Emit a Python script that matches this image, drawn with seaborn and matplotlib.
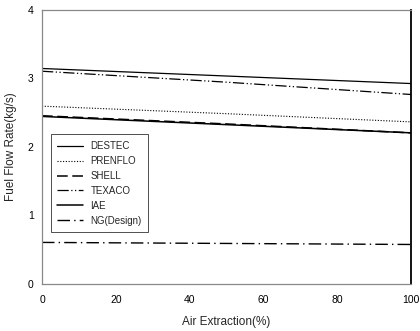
import matplotlib
matplotlib.use("Agg")
import matplotlib.pyplot as plt
import seaborn as sns
import pandas as pd

# Fuel flow rate versus air extraction for each gasifier
air_extraction = [0, 50, 100]
destec = [3.14, 3.03, 2.92]
prenflo = [2.59, 2.48, 2.36]
shell = [2.45, 2.33, 2.20]
texaco = [3.10, 2.94, 2.76]
iae = [2.44, 2.32, 2.20]
ng_design = [0.60, 0.585, 0.57]

series = {
    "DESTEC": destec,
    "PRENFLO": prenflo,
    "SHELL": shell,
    "TEXACO": texaco,
    "IAE": iae,
    "NG(Design)": ng_design,
}
styles = {
    "DESTEC": dict(ls="-", lw=0.9),
    "PRENFLO": dict(ls=(0, (1, 1.5)), lw=0.8),
    "SHELL": dict(ls=(0, (7, 3)), lw=1.1),
    "TEXACO": dict(ls=(0, (9, 2, 1, 2, 1, 2)), lw=0.9),
    "IAE": dict(ls="-", lw=1.1),
    "NG(Design)": dict(ls=(0, (9, 3, 1, 3)), lw=1.0),
}

sns.set_theme(style="white")
plt.rcParams["font.family"] = ["Liberation Sans", "DejaVu Sans"]

fig = plt.figure(figsize=(4.2, 3.31), dpi=100)
ax = fig.add_axes([0.1, 0.1435, 0.879, 0.8275])

for name, vals in series.items():
    df = pd.DataFrame({"x": air_extraction, "y": vals})
    sns.lineplot(data=df, x="x", y="y", ax=ax, color="black",
                 label=name, **styles[name])

ax.set_xlim(0, 100)
ax.set_ylim(0, 4)
ax.set_xticks([0, 20, 40, 60, 80, 100])
ax.set_yticks([0, 1, 2, 3, 4])
ax.set_xlabel("Air Extraction(%)", fontsize=8.5, labelpad=8)
ax.set_ylabel("Fuel Flow Rate(kg/s)", fontsize=8.5, labelpad=8)
ax.tick_params(axis="both", labelsize=7.5, colors="black")
ax.tick_params(axis="x", direction="in", length=3, width=0.6, pad=8)
ax.tick_params(axis="y", direction="out", length=3, width=0.6, pad=3)

for side in ["left", "top", "bottom"]:
    ax.spines[side].set_color("#888888")
    ax.spines[side].set_linewidth(0.9)
ax.spines["right"].set_color("black")
ax.spines["right"].set_linewidth(1.3)

leg = ax.legend(loc="upper left", bbox_to_anchor=(0.01, 0.562), fontsize=7,
                frameon=True, fancybox=False, handlelength=2.6,
                borderpad=0.7, labelspacing=0.5, handletextpad=0.8)
leg.get_frame().set_edgecolor("black")
leg.get_frame().set_linewidth(0.6)

fig.savefig("out.png", dpi=100)
